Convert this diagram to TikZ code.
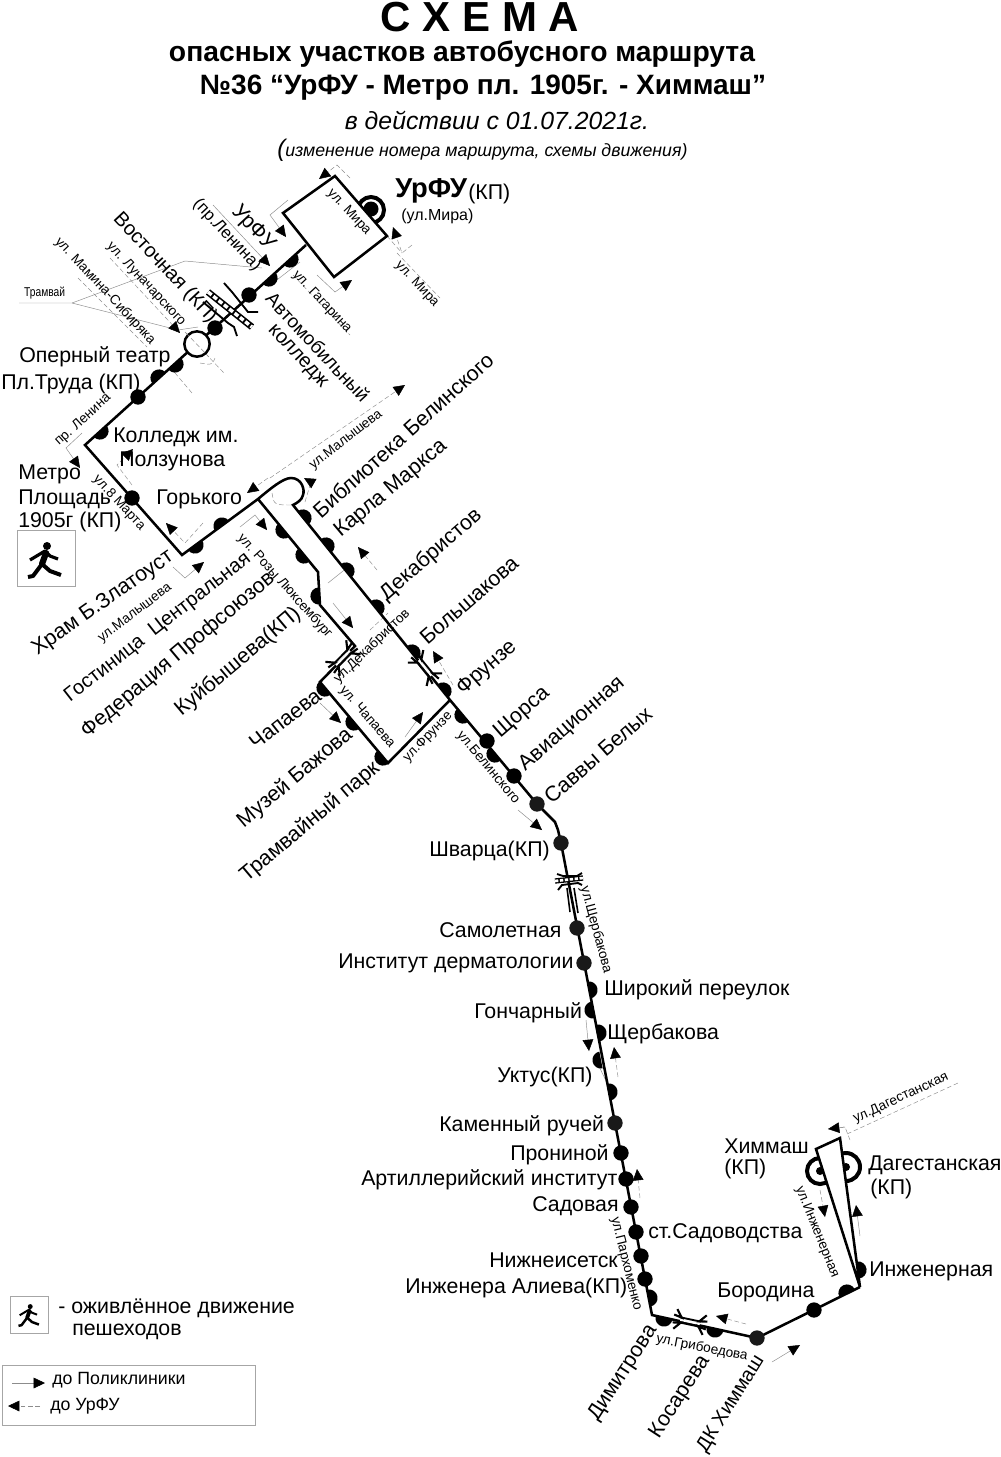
\documentclass[tikz,border=0pt]{standalone}
\usepackage{fontspec}
\setmainfont{Liberation Sans}
\usetikzlibrary{arrows.meta}
\tikzset{
  route/.style={line width=1.9pt,line join=miter},
  stopdot/.style={circle,fill=black,inner sep=0pt,minimum size=11.5pt},
  darkstop/.style={stopdot,fill=black!90},
  lbl/.style={inner sep=0pt,font=\fontsize{16}{18}\selectfont},
  lblb/.style={inner sep=0pt,font=\fontsize{15}{17}\selectfont},
  strt/.style={inner sep=0pt,font=\fontsize{10.2}{12}\selectfont},
  guide/.style={draw=black!45,line width=.35pt},
  guideb/.style={guide,dash pattern=on 3.5pt off 2pt},
  tip/.style={-{Triangle[black,length=8.5pt,width=8pt]}},
  tramx/.pic={
    \draw[white,line width=1.5pt] (-10,0) -- (10,0);
    \draw[line width=1.4pt] (-11,-2.6) -- (11,-2.6) (-11,2.6) -- (11,2.6);
    \draw[line width=1.6pt] (-15,-10) -- (-9,-2.6) -- (-17,-4) (15,-10) -- (9,-2.6) -- (17,-4);
    \draw[line width=1.6pt] (-15,10) -- (-9,2.6) -- (-17,4) (15,10) -- (9,2.6) -- (17,4);
  },
  pics/walker/.style={code={
    \fill (2,-12) circle (4);
    \draw[line width=#1*4.6pt,line cap=round] (1,-5) -- (-3,6);
    \draw[line width=#1*2.4pt,line join=round] (-15,2) -- (0,-7) -- (5,-2) -- (13,1);
    \draw[line width=#1*3pt,line join=round] (-3,6) -- (-12,18) -- (-17,19);
    \draw[line width=#1*3pt,line join=round] (-3,6) -- (5,13) -- (16,17);
  }},
}
\begin{document}
\begin{tikzpicture}[x=0.75pt,y=0.75pt,yscale=-1,xscale=1]
\useasboundingbox (0,0) rectangle (1000,1457);

% route bends
\coordinate (rectA) at (335,176);
\coordinate (rectB) at (283,213);
\coordinate (rectC) at (334,277);
\coordinate (rectD) at (387,236);
\coordinate (leninTop) at (306,245);
\coordinate (leninEnd) at (85,445);
\coordinate (martaEnd) at (182,555);
\coordinate (fork) at (258,499);
\coordinate (loopEnd) at (293,505);
\coordinate (frunze) at (450,700);
\coordinate (savvy) at (537,804);
\coordinate (bend) at (555,822);
\coordinate (shvarc) at (561,843);
\coordinate (dimitr) at (652,1315);
\coordinate (dkHim) at (757,1338);
\coordinate (ingen) at (860,1287);
\coordinate (triA) at (840,1138);
\coordinate (triB) at (816,1149);
\coordinate (rozyA) at (318,572);
\coordinate (rozyB) at (320,605);
\coordinate (rozyC) at (355,646);
\coordinate (chapA) at (320,682);
\coordinate (chapB) at (388,763);

% thin lines along the streets and arrows
\draw[guideb,tip] (350,178) -- (337,165) -- (319,179);
\draw[guide,tip] (288,200) -- (270,215) -- (286,237);
\draw[guide,tip] (317,275) -- (335,292) -- (352,280);
\draw[guideb] (387,236) -- (402,253);
\draw[guideb,tip] (412,245) -- (402,253) -- (393,227);
\draw[guideb] (397,253) -- (440,298);
\draw[guide,tip] (213,205) -- (270,266);
\draw[guide] (273,283) -- (300,262);
\draw[guideb] (293,275) -- (350,335);
\draw[guide] (19,303) -- (72,303) -- (185,261) -- (262,268);
\draw[guide] (72,303) -- (178,330) -- (198,327);
\draw[guideb,tip] (110,258) -- (180,333);
\draw[guideb] (78,278) -- (147,347);
\draw[guideb] (170,367) -- (192,393);
\draw[guideb] (185,332) -- (224,373);
\draw[guideb] (200,363) .. controls (212,365) .. (215,358);
\draw[guide,tip] (82,433) -- (66,448) -- (80,468);
\draw[guideb,tip] (132,485) -- (117,465) -- (133,449);
\draw[guideb,tip] (203,523) -- (185,543) -- (166,523);
\draw[guide,tip] (173,567) -- (185,578) -- (204,562);
\draw[guideb,tip] (270,478) -- (405,385);
\draw[guideb,tip] (268,478) -- (247,493);
\draw[guideb,tip] (305,502) -- (311,482) -- (304,478);
\draw[guideb] (272,493) .. controls (274,505) .. (293,505);
\draw[guide,tip] (240,527) -- (255,515) -- (267,530);
\draw[guideb,tip] (377,570) -- (358,547);
\draw[guide,tip] (333,603) -- (353,628);
\draw[guideb] (370,630) -- (388,613);
\draw[guide] (328,583) -- (348,567);
\draw[guideb,tip] (453,685) -- (433,651);
\draw[guide,tip] (320,703) -- (341,723);
\draw[guide,tip] (405,737) -- (423,712);
\draw[guide,tip] (518,810) -- (542,830);
\draw[guide,tip] (586,1020) -- (589,1051);
\draw[guideb,tip] (618,1077) -- (614,1047);
\draw[guide] (596,1060) -- (607,1083);
\draw[guideb,tip] (640,1198) -- (637,1169);
\draw[guideb,tip] (746,1324) -- (716,1316);
\draw[guide,tip] (772,1362) -- (800,1345);
\draw[guide,tip] (860,1236) -- (856,1205);
\draw[guideb,tip] (820,1190) -- (825,1217);
\draw[guideb] (850,1140) -- (845,1127) -- (828,1129);
\draw[guideb,tip] (845,1127) -- (828,1129);
\draw[guideb] (847,1134) -- (958,1083);

% terminal rings go under the white shapes
\draw[line width=3pt] (371,210) circle (13);
\fill (371,209) circle (7.5);
\draw[line width=3pt] (820,1171) circle (13);
\fill (820,1171) circle (4);
\draw[line width=3pt] (846,1167) circle (14);
\fill (846,1167) circle (4);

% route
\draw[route,fill=white] (rectA) -- (rectB) -- (rectC) -- (rectD) -- cycle;
\draw[route] (leninTop) -- (leninEnd) -- (martaEnd) -- (fork)
  .. controls (270,489) and (283,478) .. (291,478)
  .. controls (302,478) and (305,490) .. (303,495)
  .. controls (302,500) and (297,503) .. (loopEnd)
  -- (frunze) -- (savvy) -- (bend) -- (558,830) -- (shvarc) -- (dimitr) -- (dkHim) -- (ingen);
\draw[route] (fork) -- (rozyA) -- (rozyB) -- (rozyC) -- (chapA) -- (chapB) -- (frunze);
\draw[route,fill=white] (ingen) -- (triA) -- (triB) -- cycle;

% stops on the line
\foreach \x/\y [count=\i] in {249/295,215/328,138/397,132/498,487/741,514/776,
  621/1153,626/1179,631/1207,636/1232,641/1256,645/1279,814/1310}
  \node[stopdot] (stop\i) at (\x,\y) {};
\foreach \x/\y [count=\i] in {537/804,561/843,577/928,584/963,615/1123,757/1338}
  \node[darkstop] (dark\i) at (\x,\y) {};
% half stops: point on the line and start angle
\foreach \x/\y/\a in {269/278/-42,290/259/-42,175/364/-42,159/378/138,100/431/-42,
  195/545/-36,222/526/144,303/518/231,326/546/231,346/571/231,376/608/231,412/653/231,443/691/231,
  463/715/50,495/754/50,284/530/50,304/555/50,319/596/87,325/688/50,354/722/50,383/757/50,
  589/990/259,593/1010/79,598/1033/259,601/1060/79,609/1092/259,649/1298/259,
  664/1318/12,715/1329/12,847/1293/154,858/1270/-97}
  \fill (\x,\y) ++(\a:8.6) arc (\a:\a+180:8.6) -- cycle;
\node[circle,draw,line width=1.9pt,fill=white,inner sep=0pt,minimum size=19pt] (opera) at (197,344) {};
\draw[guideb] (186,333) -- (209,357);

% tram crossings
\draw[line width=5pt] (208,292) -- (252,327);
\draw[white,line width=2.6pt,dash pattern=on 3.5pt off 1.6pt] (208,292) -- (252,327);
\draw[line width=1.4pt] (224,283) -- (232,292) -- (248,312) -- (258,312);
\draw[line width=1.4pt] (203,302) -- (228,323) -- (234,327) -- (237,336);
\pic[rotate=46] at (343,658) {tramx};
\pic[rotate=-51] at (425,668) {tramx};
\pic[rotate=-12] at (690,1322) {tramx};
\draw[line width=4pt] (555,881) -- (583,878);
\draw[white,line width=2pt,dash pattern=on 2.5pt off 1.2pt] (555,881) -- (583,878);
\draw[line width=1.4pt] (557,874) -- (563,876) -- (577,876) -- (582,873);
\draw[line width=1.4pt] (558,890) -- (562,885) -- (578,883) -- (582,885);
\draw[line width=1.2pt] (567,888) -- (570,912);
\draw[line width=1.2pt] (574,888) -- (578,913);

% pedestrian boxes
\draw[guide,draw=black!35] (17,530) rectangle (75,586);
\pic[yscale=-1] at (45,558) {walker=1};
\draw[guide,draw=black!35] (10,1296) rectangle (48,1333);
\pic[scale=.62,yscale=-1] at (29,1314) {walker=.62};

% title
\node (title) at (480,17) [inner sep=0pt,font=\fontsize{31.5}{33}\bfseries\selectfont] {С Х Е М А};
\node (sub1) at (462,54) [inner sep=0pt,font=\fontsize{21.2}{23}\bfseries\selectfont] {опасных участков автобусного маршрута};
\node (sub2) at (483,88) [inner sep=0pt,font=\fontsize{21}{23}\bfseries\selectfont] {№36 “УрФУ - Метро пл. 1905г. - Химмаш”};
\node (sub3) at (497,120) [inner sep=0pt,font=\fontsize{18.6}{20}\itshape\selectfont] {в действии с 01.07.2021г.};
\node (sub4) at (277,150) [anchor=west,inner sep=0pt,font=\fontsize{13.3}{15}\itshape\selectfont] {{\fontsize{18}{18}\selectfont(}изменение номера маршрута, схемы движения)};

% top end
\node (urfu) at (395,191) [anchor=west,inner sep=0pt,font=\fontsize{20.5}{22}\bfseries\selectfont] {УрФУ};
\node (urfuKp) at (468,194) [anchor=west,lbl] {(КП)};
\node (urfuSt) at (401,216) [anchor=west,strt,font=\fontsize{12}{14}\selectfont] {(ул.Мира)};
\node (tram) at (24,293) [anchor=west,strt,xscale=.8,font=\fontsize{9.6}{11}\selectfont] {Трамвай};

% rotated street names
\node (sMira1) at (349,212) [strt,rotate=-47] {ул. Мира};
\node (sMira2) at (417,284) [strt,rotate=-47] {ул. Мира};
\node (sGagar) at (322,302) [strt,rotate=-47] {ул. Гагарина};
\node (sLenin1) at (227,235) [strt,rotate=-47,font=\fontsize{12.5}{14}\selectfont] {(пр.Ленина)};
\node (sLunach) at (146,284) [strt,rotate=-47] {ул. Луначарского};
\node (sMamin) at (105,291) [strt,rotate=-47] {ул. Мамина-Сибиряка};
\node (sLenin2) at (83,420) [strt,rotate=42] {пр. Ленина};
\node (sMarta) at (119,503) [strt,rotate=-47] {ул.8 Марта};
\node (sMalysh1) at (346,440) [strt,rotate=38] {ул.Малышева};
\node (sMalysh2) at (135,613) [strt,rotate=37] {ул.Малышева};
\node (sRozy) at (285,586) [strt,rotate=-48] {ул. Розы Люксембург};
\node (sDekab) at (372,646) [strt,rotate=44] {ул.Декабристов};
\node (sChap) at (367,717) [strt,rotate=-49] {ул. Чапаева};
\node (sFrunz) at (428,737) [strt,rotate=46] {ул.Фрунзе};
\node (sBelin) at (488,768) [strt,rotate=-50] {ул.Белинского};
\node (sSherb) at (596,930) [strt,rotate=-75] {ул.Щербакова};
\node (sParkh) at (626,1264) [strt,rotate=-76] {ул.Пархоменко};
\node (sGrib) at (702,1348) [strt,rotate=-11] {ул.Грибоедова};
\node (sIngen) at (817,1232) [strt,rotate=-68] {ул.Инженерная};
\node (sDagest) at (901,1098) [strt,rotate=25] {ул.Дагестанская};

% rotated stop names
\node (nUrfu) at (253,228) [lbl,rotate=-47] {УрФУ};
\node (nVost) at (165,268) [lblb,rotate=-47] {Восточная (КП)};
\node (nAvto1) at (318,347) [lbl,rotate=-47,font=\fontsize{14.2}{16}\selectfont] {Автомобильный};
\node (nAvto2) at (297,357) [lblb,rotate=-47] {колледж};
\node (nBibl) at (403,435) [lbl,rotate=42] {Библиотека Белинского};
\node (nKarl) at (391,489) [lbl,rotate=40] {Карла Маркса};
\node (nDekab) at (431,555) [lbl,rotate=41] {Декабристов};
\node (nBolsh) at (469,600) [lbl,rotate=41] {Большакова};
\node (nFrunz) at (487,668) [lbl,rotate=41] {Фрунзе};
\node (nShors) at (522,713) [lbl,rotate=41] {Щорса};
\node (nAvia) at (572,724) [lbl,rotate=41] {Авиационная};
\node (nSavv) at (598,755) [lbl,rotate=41] {Саввы Белых};
\node (nHram) at (103,603) [lbl,rotate=35] {Храм Б.Златоуст};
\node (nGost) at (158,628) [lblb,rotate=38] {Гостиница\ \ Центральная};
\node (nFeder) at (178,655) [lbl,rotate=40] {Федерация Профсоюзов};
\node (nKuib) at (238,662) [lbl,rotate=40] {Куйбышева(КП)};
\node (nChap) at (285,719) [lbl,rotate=38] {Чапаева};
\node (nBazh) at (295,778) [lbl,rotate=40] {Музей Бажова};
\node (nTram) at (310,822) [lbl,rotate=40] {Трамвайный парк};
\node (nDimit) at (623,1373) [lbl,rotate=57] {Димитрова};
\node (nKosar) at (680,1397) [lbl,rotate=57] {Косарева};
\node (nDk) at (731,1404) [lblb,rotate=58] {ДК Химмаш};

% level stop names
\foreach \nm/\x/\y/\t in {nOper/19/355/Оперный театр,nTrud/1/382/Пл.Труда (КП),nKoll1/113/435/Колледж им.,nKoll2/119/459/Ползунова,
  nMetr1/18/472/Метро,nMetr2/18/497/Площадь,nMetr3/18/520/1905г (КП),nGork/156/497/Горького,nShv/429/849/Шварца(КП),
  nSamol/439/928/Самолетная,nInst/338/961/Институт дерматологии,nShir/604/988/Широкий переулок,nGonch/474/1011/Гончарный,
  nSherb/607/1032/Щербакова,nUkt/497/1075/Уктус(КП),nKam/439/1124/Каменный ручей,nPron/510/1153/Прониной,
  nArt/361/1178/Артиллерийский институт,nSad/532/1204/Садовая,nStSad/648/1231/ст.Садоводства,nNizh/489/1258/Нижнеисетск,
  nAliev/405/1286/Инженера Алиева(КП),nBor/717/1290/Бородина,nIng/869/1269/Инженерная,nHim1/724/1144/Химмаш,nHim2/724/1167/(КП),
  nDag1/868/1163/Дагестанская,nDag2/870/1187/(КП)}
  \node (\nm) at (\x,\y+2) [anchor=west,lbl] {\t};

% legend
\node (legA) at (58,1308) [anchor=west,lbl] {- оживлённое движение};
\node (legB) at (72,1332) [anchor=west,lbl] {пешеходов};
\draw[guide,draw=black!35] (2,1365) rectangle (255,1425);
\coordinate (legC) at (12,1383);
\coordinate (legD) at (45,1383);
\coordinate (legE) at (40,1406);
\coordinate (legF) at (8,1406);
\draw[guide,tip] (legC) -- (legD);
\draw[guideb,tip] (legE) -- (legF);
\node (legG) at (52,1380) [anchor=west,strt,font=\fontsize{13.3}{15}\selectfont] {до Поликлиники};
\node (legH) at (50,1406) [anchor=west,strt,font=\fontsize{13.3}{15}\selectfont] {до УрФУ};
\end{tikzpicture}
\end{document}
